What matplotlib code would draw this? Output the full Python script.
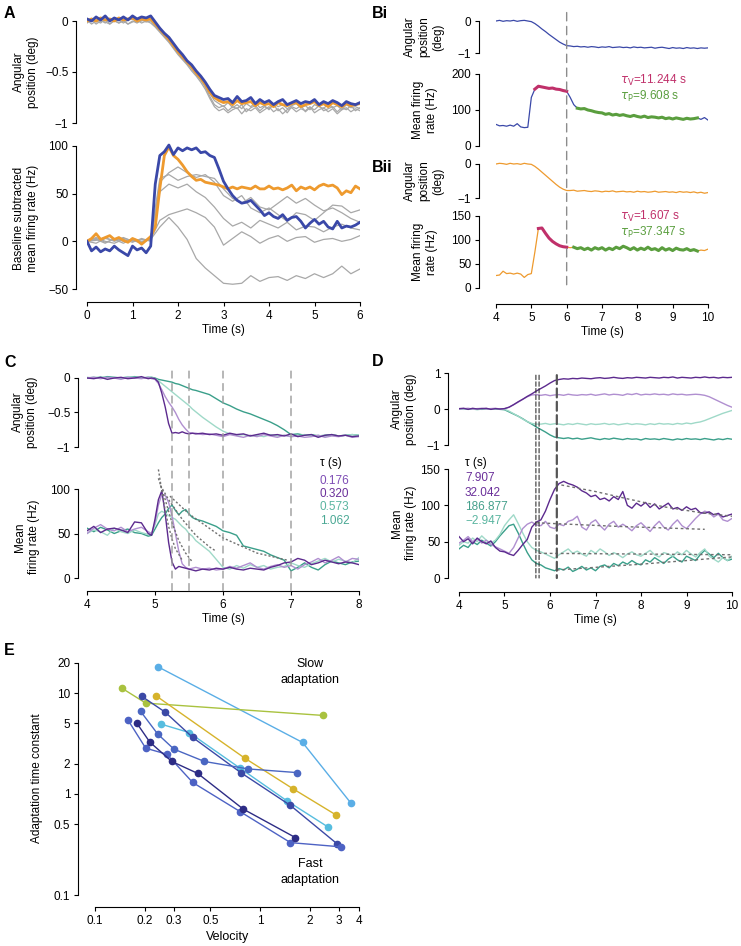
import numpy as np
import matplotlib
matplotlib.use('Agg')
import matplotlib.pyplot as plt
from matplotlib.patches import ConnectionPatch
from matplotlib.ticker import NullLocator

plt.rcParams['font.family'] = ['Liberation Sans', 'DejaVu Sans']
plt.rcParams['font.size'] = 8.5
plt.rcParams['axes.linewidth'] = 0.8
plt.rcParams['xtick.major.size'] = 3
plt.rcParams['ytick.major.size'] = 3
plt.rcParams['xtick.major.width'] = 0.8
plt.rcParams['ytick.major.width'] = 0.8
plt.rcParams['xtick.major.pad'] = 2.5
plt.rcParams['ytick.major.pad'] = 2.5
plt.rcParams['mathtext.fontset'] = 'dejavusans'

#%% Datos A (tiempo 0-6 s)
A_pos_blue = [0.02, 0.00, 0.04, 0.01, 0.05, 0.00, 0.03, 0.01, 0.04, 0.01, 0.05, 0.02, 0.04, 0.03, 0.05,
              -0.01, -0.07, -0.12, -0.16, -0.22, -0.28, -0.33, -0.39, -0.43, -0.49, -0.54, -0.60, -0.67, -0.73, -0.75,
              -0.77, -0.76, -0.80, -0.74, -0.79, -0.78, -0.75, -0.81, -0.77, -0.80, -0.78, -0.82, -0.79, -0.77, -0.82,
              -0.80, -0.78, -0.81, -0.79, -0.80, -0.77, -0.82, -0.79, -0.81, -0.78, -0.80, -0.83, -0.79, -0.81, -0.82, -0.80]
A_pos_orange = [0.00, 0.02, 0.00, 0.03, 0.01, 0.02, 0.00, 0.03, 0.01, 0.02, 0.03, 0.00, 0.02, 0.01, 0.02,
                -0.03, -0.08, -0.13, -0.18, -0.24, -0.30, -0.35, -0.40, -0.45, -0.51, -0.56, -0.62, -0.70, -0.75, -0.78,
                -0.80, -0.79, -0.82, -0.78, -0.81, -0.80, -0.79, -0.83, -0.80, -0.82, -0.81, -0.84, -0.80, -0.82, -0.83,
                -0.81, -0.80, -0.84, -0.82, -0.81, -0.79, -0.83, -0.81, -0.84, -0.80, -0.82, -0.84, -0.81, -0.83, -0.82, -0.81]
A_pos_gray = [
    [0.01, -0.03, 0.00, -0.02, 0.02, -0.03, 0.00, -0.02, 0.01, -0.03, 0.00, -0.02, 0.01, -0.01, 0.00,
     -0.05, -0.10, -0.15, -0.20, -0.26, -0.32, -0.37, -0.42, -0.47, -0.53, -0.58, -0.65, -0.74, -0.82, -0.85,
     -0.83, -0.88, -0.84, -0.86, -0.82, -0.89, -0.85, -0.83, -0.88, -0.84, -0.86, -0.82, -0.88, -0.85, -0.90,
     -0.84, -0.86, -0.83, -0.89, -0.85, -0.87, -0.83, -0.88, -0.86, -0.84, -0.89, -0.85, -0.87, -0.83, -0.88, -0.85],
    [0.00, 0.02, -0.01, 0.01, -0.02, 0.02, 0.00, 0.01, -0.02, 0.01, 0.02, -0.01, 0.00, 0.02, 0.01,
     -0.04, -0.09, -0.14, -0.19, -0.25, -0.31, -0.36, -0.41, -0.46, -0.52, -0.57, -0.63, -0.71, -0.78, -0.81,
     -0.84, -0.80, -0.85, -0.82, -0.86, -0.81, -0.84, -0.80, -0.85, -0.83, -0.87, -0.81, -0.84, -0.82, -0.86,
     -0.83, -0.81, -0.85, -0.83, -0.87, -0.82, -0.84, -0.86, -0.81, -0.85, -0.83, -0.87, -0.82, -0.85, -0.84, -0.86],
    [-0.02, 0.01, -0.03, 0.00, -0.01, -0.03, 0.01, -0.02, 0.00, -0.03, -0.01, 0.01, -0.02, 0.00, -0.02,
     -0.06, -0.11, -0.16, -0.21, -0.27, -0.33, -0.38, -0.43, -0.49, -0.54, -0.60, -0.67, -0.76, -0.84, -0.88,
     -0.86, -0.90, -0.87, -0.85, -0.91, -0.86, -0.88, -0.85, -0.90, -0.87, -0.84, -0.89, -0.86, -0.91, -0.87,
     -0.85, -0.89, -0.86, -0.88, -0.84, -0.90, -0.87, -0.85, -0.89, -0.86, -0.91, -0.87, -0.85, -0.89, -0.86, -0.88],
]
A_rate_blue = [0, -10, -6, -11, -8, -10, -5, -9, -12, -15, -5, -9, -7, -12, -5,
               60, 90, 94, 101, 91, 98, 95, 98, 96, 98, 93, 94, 90, 88, 76,
               63, 55, 48, 43, 40, 41, 43, 38, 33, 27, 30, 26, 24, 28, 22,
               25, 26, 21, 14, 19, 23, 18, 21, 15, 13, 21, 14, 16, 15, 17, 20]
A_rate_orange = [0, 3, 8, 2, 4, 6, 2, 4, 1, -1, 3, 1, -3, 1, 5,
                 15, 55, 90, 99, 90, 86, 80, 73, 68, 64, 65, 62, 61, 60, 59,
                 57, 55, 57, 55, 57, 56, 55, 58, 55, 55, 58, 55, 56, 54, 56,
                 59, 53, 57, 55, 57, 54, 58, 60, 58, 59, 56, 49, 53, 51, 58, 55]
A_rate_gray = [
    [0, 2, -2, 3, 0, 2, -1, 2, 15, 25, 15, 2, -18, -28, -36, -44, -45, -44, -36, -42,
     -38, -37, -41, -36, -39, -34, -38, -34, -26, -34, -29],
    [0, 3, -1, 2, -2, 3, 0, 2, 22, 28, 31, 34, 30, 25, 15, -4, 3, 10, 5, -2,
     3, 6, 0, 4, 5, -1, 2, 3, 0, 2, 6],
    [0, -2, 3, 1, 4, 0, 2, 1, 52, 60, 56, 60, 52, 46, 36, 24, 16, 20, 14, 22,
     18, 14, 20, 12, 16, 15, 10, 15, 18, 14, 12],
    [0, 4, 0, -2, 2, -1, 3, 0, 62, 72, 78, 72, 67, 70, 62, 48, 42, 48, 35, 30,
     35, 28, 21, 30, 28, 22, 30, 38, 37, 30, 33],
    [0, 1, 4, 0, 3, 1, -2, 3, 66, 70, 64, 68, 70, 68, 66, 55, 45, 40, 46, 36,
     33, 40, 47, 40, 45, 38, 32, 35, 30, 24, 20],
]

#%% Datos B (tiempo 4-10 s)
Bi_pos = [0.00, 0.02, -0.01, 0.01, 0.00, 0.02, -0.01, 0.01, 0.02, 0.00, -0.02,
          -0.08, -0.16, -0.25, -0.33, -0.42, -0.50, -0.58, -0.66, -0.72, -0.77,
          -0.78, -0.80, -0.79, -0.81, -0.80, -0.82, -0.80, -0.81, -0.83, -0.81,
          -0.82, -0.80, -0.83, -0.82, -0.81, -0.83, -0.82, -0.84, -0.81, -0.83,
          -0.82, -0.84, -0.83, -0.82, -0.85, -0.83, -0.82, -0.84, -0.86, -0.83,
          -0.85, -0.84, -0.86, -0.83, -0.85, -0.84, -0.86, -0.84, -0.85, -0.84]
Bi_rate = [60, 56, 57, 55, 58, 55, 62, 53, 51, 52, 135,
           158, 166, 164, 162, 160, 161, 158, 157, 154, 152,
           135, 115, 105, 103, 104, 100, 98, 95, 93, 92,
           88, 90, 86, 88, 85, 87, 84, 82, 85, 82,
           80, 83, 79, 81, 80, 78, 80, 76, 78, 75,
           78, 76, 74, 77, 75, 76, 78, 74, 79, 72]
Bii_pos = [0.00, 0.02, 0.01, -0.01, 0.02, 0.00, 0.01, -0.01, 0.02, 0.00, -0.01,
           -0.07, -0.15, -0.24, -0.33, -0.42, -0.51, -0.60, -0.68, -0.74, -0.78,
           -0.78, -0.77, -0.80, -0.79, -0.78, -0.80, -0.81, -0.79, -0.80, -0.82,
           -0.80, -0.81, -0.79, -0.82, -0.81, -0.80, -0.82, -0.81, -0.83, -0.80,
           -0.82, -0.81, -0.83, -0.82, -0.80, -0.83, -0.82, -0.81, -0.83, -0.82,
           -0.84, -0.81, -0.83, -0.82, -0.84, -0.82, -0.85, -0.83, -0.86, -0.84]
Bii_rate = [26, 27, 35, 30, 31, 29, 31, 29, 22, 28, 30,
            75, 124, 125, 114, 104, 97, 92, 88, 86, 85,
            84, 85, 82, 84, 80, 83, 79, 84, 81, 84,
            79, 83, 80, 85, 82, 87, 84, 80, 84, 79,
            83, 80, 85, 80, 82, 78, 84, 79, 82, 78,
            83, 80, 79, 82, 78, 80, 77, 79, 78, 81]
Bi_seg_V, Bi_seg_P = (11, 21), (23, 58)     # indices of fitted segments
Bii_seg_V, Bii_seg_P = (12, 21), (22, 58)
Bi_tau = ('11.244', '9.608')
Bii_tau = ('1.607', '37.347')

#%% Datos C (tiempo 4-8 s, grilla mas fina en la caida)
tC = np.r_[np.linspace(4.0, 4.9, 10), np.linspace(4.95, 5.55, 13), np.linspace(5.6, 8.0, 25)]
C_pos = [
    [0.00, -0.01, 0.01, -0.02, 0.00, 0.01, -0.01, 0.00, 0.02, -0.01,
     0.00, -0.01, -0.06, -0.22, -0.42, -0.66, -0.80, -0.79, -0.80, -0.78, -0.80, -0.81, -0.80,
     -0.81, -0.80, -0.82, -0.81, -0.83, -0.80, -0.82, -0.81, -0.84, -0.82, -0.80, -0.83, -0.82,
     -0.84, -0.81, -0.85, -0.83, -0.82, -0.86, -0.83, -0.82, -0.84, -0.83, -0.85, -0.84],
    [0.00, 0.01, -0.01, 0.01, 0.00, -0.02, 0.01, 0.00, -0.01, 0.01,
     -0.01, -0.02, -0.08, -0.17, -0.27, -0.35, -0.42, -0.50, -0.60, -0.68, -0.74, -0.79, -0.80,
     -0.80, -0.82, -0.81, -0.83, -0.85, -0.82, -0.84, -0.86, -0.83, -0.85, -0.82, -0.84, -0.86,
     -0.83, -0.85, -0.84, -0.86, -0.85, -0.83, -0.86, -0.84, -0.85, -0.83, -0.86, -0.85],
    [0.01, 0.00, 0.02, 0.00, 0.01, 0.00, 0.02, 0.01, 0.00, 0.01,
     0.01, -0.01, -0.04, -0.08, -0.12, -0.16, -0.20, -0.24, -0.28, -0.32, -0.36, -0.40, -0.45,
     -0.49, -0.57, -0.64, -0.71, -0.77, -0.81, -0.83, -0.82, -0.84, -0.83, -0.85, -0.82, -0.84,
     -0.83, -0.85, -0.84, -0.82, -0.84, -0.83, -0.85, -0.82, -0.84, -0.83, -0.82, -0.83],
    [0.00, 0.01, 0.00, 0.02, 0.01, 0.00, 0.01, 0.02, 0.00, 0.01,
     0.01, 0.00, -0.02, -0.03, -0.04, -0.05, -0.06, -0.08, -0.09, -0.11, -0.13, -0.15, -0.17,
     -0.18, -0.21, -0.24, -0.30, -0.36, -0.40, -0.45, -0.49, -0.52, -0.56, -0.60, -0.64, -0.69,
     -0.75, -0.82, -0.81, -0.83, -0.82, -0.84, -0.83, -0.82, -0.84, -0.83, -0.82, -0.83],
]
C_rate = [
    [53, 58, 51, 55, 56, 54, 51, 63, 62, 50,
     48, 66, 88, 98, 72, 40, 18, 10, 13, 12, 11, 10, 9,
     8, 10, 9, 11, 10, 12, 10, 9, 11, 10, 9, 12, 14, 17, 18, 22, 20, 15, 17, 20, 18, 16, 18, 17, 15],
    [50, 56, 60, 55, 53, 57, 52, 55, 57, 52,
     50, 62, 82, 94, 93, 85, 70, 50, 30, 16, 12, 10, 11,
     12, 10, 11, 9, 10, 13, 11, 14, 17, 12, 10, 13, 15, 12, 14, 10, 15, 18, 22, 17, 20, 24, 18, 22, 21],
    [50, 54, 52, 48, 56, 52, 50, 54, 51, 49,
     50, 60, 72, 75, 73, 70, 68, 66, 62, 58, 55, 50, 47,
     42, 36, 30, 21, 12, 10, 14, 11, 15, 12, 14, 10, 12, 13, 17, 14, 12, 16, 19, 22, 18, 21, 19, 17, 23],
    [56, 52, 57, 54, 50, 53, 55, 51, 50, 47,
     48, 55, 62, 68, 72, 78, 82, 76, 71, 75, 77, 72, 68,
     66, 64, 61, 58, 53, 51, 48, 36, 34, 32, 30, 26, 23, 20, 8, 12, 17, 12, 9, 15, 19, 17, 15, 18, 19],
]
C_fit_t = [[5.05, 5.1, 5.15, 5.2, 5.25, 5.3, 5.4],
           [5.05, 5.15, 5.25, 5.35, 5.45, 5.55],
           [5.08, 5.2, 5.4, 5.6, 5.8, 5.9],
           [5.22, 5.5, 6.0, 6.5, 6.95]]
C_fit_v = [[122, 98, 76, 58, 44, 33, 20],
           [112, 88, 62, 42, 28, 18],
           [104, 88, 66, 48, 35, 30],
           [92, 72, 45, 28, 20]]
C_tau = ['0.176', '0.320', '0.573', '1.062']
C_marks = [5.25, 5.5, 6.0, 7.0]

#%% Datos D (tiempo 4-10 s)
D_pos = [
    [0.01, 0.02, -0.01, 0.02, 0.00, 0.01, 0.02, -0.01, 0.01, 0.00, 0.01,
     0.05, 0.12, 0.20, 0.27, 0.35, 0.42, 0.50, 0.57, 0.64, 0.72, 0.79, 0.82,
     0.84, 0.83, 0.85, 0.84, 0.86, 0.85, 0.84, 0.86, 0.87, 0.85, 0.86, 0.88, 0.86, 0.85, 0.87, 0.86, 0.88,
     0.87, 0.86, 0.88, 0.87, 0.86, 0.88, 0.87, 0.89, 0.86, 0.88, 0.87, 0.86, 0.88, 0.87, 0.89, 0.87, 0.88,
     0.86, 0.88, 0.87, 0.88],
    [0.00, 0.01, 0.02, 0.00, 0.01, 0.02, 0.00, 0.01, 0.02, 0.00, 0.01,
     0.05, 0.12, 0.19, 0.27, 0.34, 0.39, 0.40,
     0.38, 0.40, 0.37, 0.39, 0.40, 0.38, 0.41, 0.39, 0.38, 0.40, 0.39, 0.41,
     0.38, 0.40, 0.42, 0.39, 0.41, 0.40, 0.38, 0.42, 0.40, 0.43, 0.39, 0.41,
     0.40, 0.42, 0.40, 0.41, 0.39, 0.42, 0.40, 0.41, 0.39, 0.40, 0.41, 0.40,
     0.38, 0.34, 0.28, 0.22, 0.16, 0.10, 0.05],
    [0.00, -0.01, 0.01, 0.00, -0.02, 0.00, 0.01, -0.01, 0.00, 0.01, -0.01,
     -0.06, -0.13, -0.20, -0.28, -0.35, -0.40, -0.42,
     -0.42, -0.40, -0.43, -0.41, -0.42, -0.44, -0.41, -0.43, -0.40, -0.42, -0.44, -0.41,
     -0.43, -0.42, -0.40, -0.43, -0.41, -0.44, -0.42, -0.40, -0.43, -0.41, -0.42, -0.44,
     -0.41, -0.43, -0.40, -0.42, -0.41, -0.43, -0.40, -0.42, -0.39, -0.41, -0.38,
     -0.36, -0.32, -0.27, -0.22, -0.17, -0.12, -0.08, -0.04],
    [0.00, 0.01, -0.01, 0.00, 0.01, -0.01, 0.00, 0.01, 0.00, -0.01, -0.02,
     -0.08, -0.14, -0.20, -0.27, -0.35, -0.42, -0.50, -0.57, -0.64, -0.72, -0.78, -0.80,
     -0.82, -0.80, -0.83, -0.81, -0.84, -0.82, -0.80, -0.83, -0.85, -0.82, -0.84, -0.81, -0.83,
     -0.85, -0.82, -0.84, -0.83, -0.86, -0.82, -0.84, -0.83, -0.85, -0.82, -0.84, -0.86, -0.83,
     -0.85, -0.82, -0.84, -0.83, -0.85, -0.82, -0.84, -0.86, -0.83, -0.85, -0.82, -0.84],
]
D_rate = [
    [57, 50, 54, 47, 55, 50, 47, 51, 42, 37, 36, 33, 31, 38, 46, 53, 70, 77, 80, 92,
     108, 122, 130, 133, 130, 128, 125, 120, 117, 112, 114, 108, 110, 106, 112, 108, 119, 100, 96, 103,
     99, 104, 97, 102, 95, 99, 103, 95, 97, 93, 98, 94, 96, 90, 89, 91, 87, 89, 84, 86, 88],
    [48, 52, 57, 50, 54, 48, 52, 46, 43, 40, 37, 34, 42, 55, 68, 74, 77, 73, 72, 78,
     70, 68, 74, 72, 78, 80, 85, 70, 66, 76, 80, 72, 66, 74, 78, 70, 74, 70, 65, 72,
     76, 70, 64, 72, 78, 70, 66, 74, 80, 72, 68, 75, 82, 88, 92, 90, 84, 88, 80, 78, 82],
    [45, 50, 48, 55, 50, 58, 52, 48, 52, 60, 72, 80, 87, 75, 62, 50, 42, 38, 36, 33,
     30, 27, 32, 36, 40, 34, 37, 33, 30, 38, 34, 40, 36, 31, 35, 32, 28, 33, 36, 32,
     30, 34, 38, 32, 29, 35, 33, 30, 36, 32, 38, 33, 29, 35, 40, 30, 26, 22, 28, 24, 30],
    [40, 45, 42, 50, 46, 52, 48, 44, 50, 58, 65, 72, 74, 62, 48, 35, 25, 20, 18, 14,
     12, 10, 13, 11, 15, 9, 12, 16, 11, 14, 10, 16, 18, 14, 20, 17, 22, 19, 24, 20,
     18, 25, 22, 28, 24, 20, 26, 30, 25, 22, 30, 27, 24, 32, 38, 33, 28, 34, 28, 24, 26],
]
D_fit_t = [[6.25, 7.0, 7.7, 8.5, 9.3, 10.0], [5.7, 7.5, 9.4], [5.75, 10.0], [6.15, 8.0, 10.0]]
D_fit_v = [[128, 119, 109, 98, 90, 85], [76, 71, 67], [34, 32], [11, 19, 29]]
D_tau = ['7.907', '32.042', '186.877', '\u22122.947']
D_marks = [5.69, 5.76, 6.15]

#%% Datos E
E_vel = [[0.242, 1.81, 3.54],
         [0.145, 0.203, 2.40],
         [0.234, 0.81, 1.58, 2.89],
         [0.251, 0.372, 0.757, 1.45, 2.59],
         [0.192, 0.266, 0.391, 0.764, 1.53, 2.94],
         [0.189, 0.24, 0.301, 0.46, 0.85, 1.67],
         [0.159, 0.203, 0.272, 0.391, 0.757, 1.53, 3.08],
         [0.179, 0.215, 0.292, 0.419, 0.79, 1.64]]
E_tau = [[18.1, 3.24, 0.82],
         [11.2, 7.94, 6.0],
         [9.4, 2.26, 1.13, 0.62],
         [4.92, 4.06, 1.80, 0.86, 0.47],
         [9.27, 6.47, 3.63, 1.63, 0.77, 0.32],
         [6.58, 3.92, 2.78, 2.1, 1.77, 1.63],
         [5.35, 2.84, 2.48, 1.30, 0.67, 0.33, 0.30],
         [5.04, 3.26, 2.1, 1.6, 0.71, 0.37]]
E_col = ['#5aaee6', '#a9c23f', '#d6b32b', '#56bddf', '#3b49a6', '#4a66c2', '#4d62c4', '#2d2c85']

#%% Colores
c_blue, c_orange, c_gray = '#3a48a8', '#ee9a2e', '#a8a8a8'
c_V, c_P = '#c0306a', '#5a9e3e'
cC = ['#5c2a8e', '#b08fd0', '#9fd9c8', '#3a9f8a']
cC_txt = ['#7d4cb5', '#6a2f9a', '#5ab5a0', '#4aa894']
cD_txt = ['#6a2f9a', '#6a2f9a', '#45a08c', '#5ab5a0']
MINUS = '\u2212'

W, H = 741, 946
fig = plt.figure(figsize=(W / 100, H / 100), dpi=100)


def lin(v):
    return v


def eje(xpx, xv, ypx, yv, xlim, ylim, lsp, yb, yt, ytl, bsp=None, xb=None, xt=None, xtl=None,
        logx=False, logy=False):
    '''ejes con spines separados; xpx/ypx son pixeles de dos valores de referencia'''
    fx = np.log10 if logx else lin
    fy = np.log10 if logy else lin
    sx = (xpx[1] - xpx[0]) / (fx(xv[1]) - fx(xv[0]))
    sy = (ypx[1] - ypx[0]) / (fy(yv[1]) - fy(yv[0]))
    x0 = xpx[0] + (fx(xlim[0]) - fx(xv[0])) * sx
    x1 = xpx[0] + (fx(xlim[1]) - fx(xv[0])) * sx
    ybot = ypx[0] + (fy(ylim[0]) - fy(yv[0])) * sy
    ytop = ypx[0] + (fy(ylim[1]) - fy(yv[0])) * sy
    ax = fig.add_axes([x0 / W, 1 - ybot / H, (x1 - x0) / W, (ybot - ytop) / H])
    if logx:
        ax.set_xscale('log')
    if logy:
        ax.set_yscale('log')
    ax.set_xlim(xlim)
    ax.set_ylim(ylim)
    ax.patch.set_alpha(0)
    ax.spines['top'].set_visible(False)
    ax.spines['right'].set_visible(False)
    ax.spines['left'].set_position(('outward', (x0 - lsp) * 0.72))
    ax.spines['left'].set_bounds(*yb)
    ax.set_yticks(yt)
    ax.set_yticklabels(ytl)
    if bsp is None:
        ax.spines['bottom'].set_visible(False)
        ax.tick_params(bottom=False, labelbottom=False)
    else:
        ax.spines['bottom'].set_position(('outward', (bsp - ybot) * 0.72))
        ax.spines['bottom'].set_bounds(*xb)
        ax.set_xticks(xt)
        ax.set_xticklabels(xtl)
    ax.xaxis.set_minor_locator(NullLocator())
    ax.yaxis.set_minor_locator(NullLocator())
    return ax


def ftext(x, y, s, **kw):
    fig.text(x / W, 1 - y / H, s, **kw)


def ylab(x, y, s):
    ftext(x, y, s, rotation=90, ha='center', va='center', multialignment='center', linespacing=1.25)


def vdash(axT, axB, x, yT, yB, **kw):
    con = ConnectionPatch(xyA=(x, yT), coordsA=axT.get_xaxis_transform(),
                          xyB=(x, yB), coordsB=axB.get_xaxis_transform(), **kw)
    fig.add_artist(con)


def letra(x, y, s):
    ftext(x, y, s, fontsize=11.5, fontweight='bold', va='baseline', ha='left')


#%% Panel A
tA = np.linspace(0, 6, len(A_pos_blue))
tAg = np.linspace(0, 6, len(A_rate_gray[0]))
axA1 = eje((87, 360), (0, 6), (21, 123), (0, -1), (0, 6), (-1, 0.1), 76, (-1, 0),
           [-1, -0.5, 0], [MINUS + '1', MINUS + '0.5', '0'])
for g in A_pos_gray:
    axA1.plot(tA, g, color=c_gray, lw=0.9)
axA1.plot(tA, A_pos_orange, color=c_orange, lw=2.0)
axA1.plot(tA, A_pos_blue, color=c_blue, lw=2.0)

axA2 = eje((87, 360), (0, 6), (146, 289), (100, -50), (0, 6), (-50, 105), 76, (-50, 100),
           [-50, 0, 50, 100], [MINUS + '50', '0', '50', '100'],
           302, (0, 6), range(7), [str(i) for i in range(7)])
for g in A_rate_gray:
    axA2.plot(tAg, g, color=c_gray, lw=0.9)
axA2.plot(tA, A_rate_orange, color=c_orange, lw=2.0)
axA2.plot(tA, A_rate_blue, color=c_blue, lw=2.0)
axA2.set_xlabel('Time (s)', labelpad=2)
ylab(26, 72, 'Angular\nposition (deg)')
ylab(26, 218, 'Baseline subtracted\nmean firing rate (Hz)')

#%% Panel B
tB = np.linspace(4, 10, len(Bi_pos))
axBi1 = eje((496, 708), (4, 10), (21, 53), (0, -1), (4, 10), (-1, 0.1), 479, (-1, 0),
            [-1, 0], [MINUS + '1', '0'])
axBi1.plot(tB, Bi_pos, color=c_blue, lw=0.9)
axBi2 = eje((496, 708), (4, 10), (74, 146), (200, 0), (4, 10), (0, 200), 479, (0, 200),
            [0, 100, 200], ['0', '100', '200'])
axBi2.plot(tB, Bi_rate, color=c_blue, lw=0.9)
axBii1 = eje((496, 708), (4, 10), (164, 198), (0, -1), (4, 10), (-1, 0.1), 479, (-1, 0),
             [-1, 0], [MINUS + '1', '0'])
axBii1.plot(tB, Bii_pos, color=c_orange, lw=0.9)
axBii2 = eje((496, 708), (4, 10), (216, 288), (150, 0), (4, 10), (0, 150), 479, (0, 150),
             [0, 50, 100, 150], ['0', '50', '100', '150'],
             304, (4, 10), range(4, 11), [str(i) for i in range(4, 11)])
axBii2.plot(tB, Bii_rate, color=c_orange, lw=0.9)
axBii2.set_xlabel('Time (s)', labelpad=2)

for ax, y, sv, sp in [(axBi2, Bi_rate, Bi_seg_V, Bi_seg_P), (axBii2, Bii_rate, Bii_seg_V, Bii_seg_P)]:
    ax.plot(tB[sv[0]:sv[1]], y[sv[0]:sv[1]], color=c_V, lw=2.2)
    ax.plot(tB[sp[0]:sp[1]], y[sp[0]:sp[1]], color=c_P, lw=2.2)

ftext(620, 80, r'$\tau_{\rm V}$=' + Bi_tau[0] + ' s', color=c_V, va='center')
ftext(620, 96, r'$\tau_{\rm P}$=' + Bi_tau[1] + ' s', color=c_P, va='center')
ftext(620, 216, r'$\tau_{\rm V}$=' + Bii_tau[0] + ' s', color=c_V, va='center')
ftext(620, 232, r'$\tau_{\rm P}$=' + Bii_tau[1] + ' s', color=c_P, va='center')
vdash(axBi1, axBii2, 6.0, 1.15, 0.0, color='#8c8c8c', lw=1.0, linestyle=(0, (6, 4)))

ylab(424, 37, 'Angular\nposition\n(deg)')
ylab(425, 110, 'Mean firing\nrate (Hz)')
ylab(424, 181, 'Angular\nposition\n(deg)')
ylab(425, 252, 'Mean firing\nrate (Hz)')

#%% Panel C
axC1 = eje((87, 359), (4, 8), (378, 447), (0, -1), (4, 8), (-1, 0.1), 78, (-1, 0),
           [-1, -0.5, 0], [MINUS + '1', MINUS + '0.5', '0'])
axC2 = eje((87, 359), (4, 8), (489, 578), (100, 0), (4, 8), (0, 105), 78, (0, 100),
           [0, 50, 100], ['0', '50', '100'],
           591, (4, 8), range(4, 9), [str(i) for i in range(4, 9)])
for k in [3, 2, 1, 0]:
    axC1.plot(tC, C_pos[k], color=cC[k], lw=1.0)
    axC2.plot(tC, C_rate[k], color=cC[k], lw=1.0)
for ft, fv in zip(C_fit_t, C_fit_v):
    axC2.plot(ft, fv, color='#707070', lw=1.0, ls=(0, (1.5, 1.5)), clip_on=False)
for m in C_marks:
    vdash(axC1, axC2, m, 1.0, -0.14, color='#9a9a9a', lw=1.0, linestyle=(0, (5, 4)))
axC2.set_xlabel('Time (s)', labelpad=2)
ftext(320, 463, '\u03c4 (s)', va='center')
for k, (s, y) in enumerate(zip(C_tau, [481, 494, 507, 521])):
    ftext(320, y, s, color=cC_txt[k], va='center')
ylab(25, 412, 'Angular\nposition (deg)')
ylab(27, 537, 'Mean\nfiring rate (Hz)')

#%% Panel D
axD1 = eje((459, 732), (4, 10), (373, 445), (1, -1), (4, 10), (-1, 1), 448, (-1, 1),
           [-1, 0, 1], [MINUS + '1', '0', '1'])
axD2 = eje((459, 732), (4, 10), (469, 578), (150, 0), (4, 10), (0, 150), 448, (0, 150),
           [0, 50, 100, 150], ['0', '50', '100', '150'],
           592, (4, 10), range(4, 11), [str(i) for i in range(4, 11)])
for k in [3, 2, 1, 0]:
    axD1.plot(np.linspace(4, 10, len(D_pos[k])), D_pos[k], color=cC[k], lw=1.0)
    axD2.plot(np.linspace(4, 10, len(D_rate[k])), D_rate[k], color=cC[k], lw=1.0)
for ft, fv in zip(D_fit_t, D_fit_v):
    axD2.plot(ft, fv, color='#707070', lw=1.0, ls=(0, (2, 2)))
vdash(axD1, axD2, D_marks[0], 0.97, 0.0, color='#333333', lw=0.8, linestyle=(0, (4, 2)))
vdash(axD1, axD2, D_marks[1], 0.97, 0.0, color='#333333', lw=0.8, linestyle=(0, (4, 2)))
vdash(axD1, axD2, D_marks[2], 0.97, 0.0, color='#555555', lw=1.6, linestyle=(0, (4, 2)))
axD2.set_xlabel('Time (s)', labelpad=2)
ftext(465, 463, '\u03c4 (s)', va='center')
for k, (s, y) in enumerate(zip(D_tau, [478, 493, 507, 521])):
    ftext(465, y, s, color=cD_txt[k], va='center')
ylab(404, 409, 'Angular\nposition (deg)')
ylab(404, 523, 'Mean\nfiring rate (Hz)')

#%% Panel E
axE = eje((95, 260), (0.1, 1), (895, 794), (0.1, 1), (0.1, 4), (0.1, 20), 78, (0.1, 20),
          [0.1, 0.5, 1, 2, 5, 10, 20], ['0.1', '0.5', '1', '2', '5', '10', '20'],
          907, (0.1, 4), [0.1, 0.2, 0.3, 0.5, 1, 2, 3, 4],
          ['0.1', '0.2', '0.3', '0.5', '1', '2', '3', '4'], logx=True, logy=True)
for v, t, c in zip(E_vel, E_tau, E_col):
    axE.plot(v, t, '-o', color=c, lw=1.0, ms=4.5)
axE.set_xlabel('Velocity', fontsize=9, labelpad=3)
ylab(37, 778, 'Adaptation time constant')
ftext(310, 672, 'Slow\nadaptation', ha='center', va='center', fontsize=9, linespacing=1.35)
ftext(310, 872, 'Fast\nadaptation', ha='center', va='center', fontsize=9, linespacing=1.35)

#%% Letras
letra(4, 18, 'A')
letra(372, 18, 'Bi')
letra(372, 172, 'Bii')
letra(4, 367, 'C')
letra(372, 366, 'D')
letra(4, 655, 'E')

fig.savefig('out.png', dpi=100)
